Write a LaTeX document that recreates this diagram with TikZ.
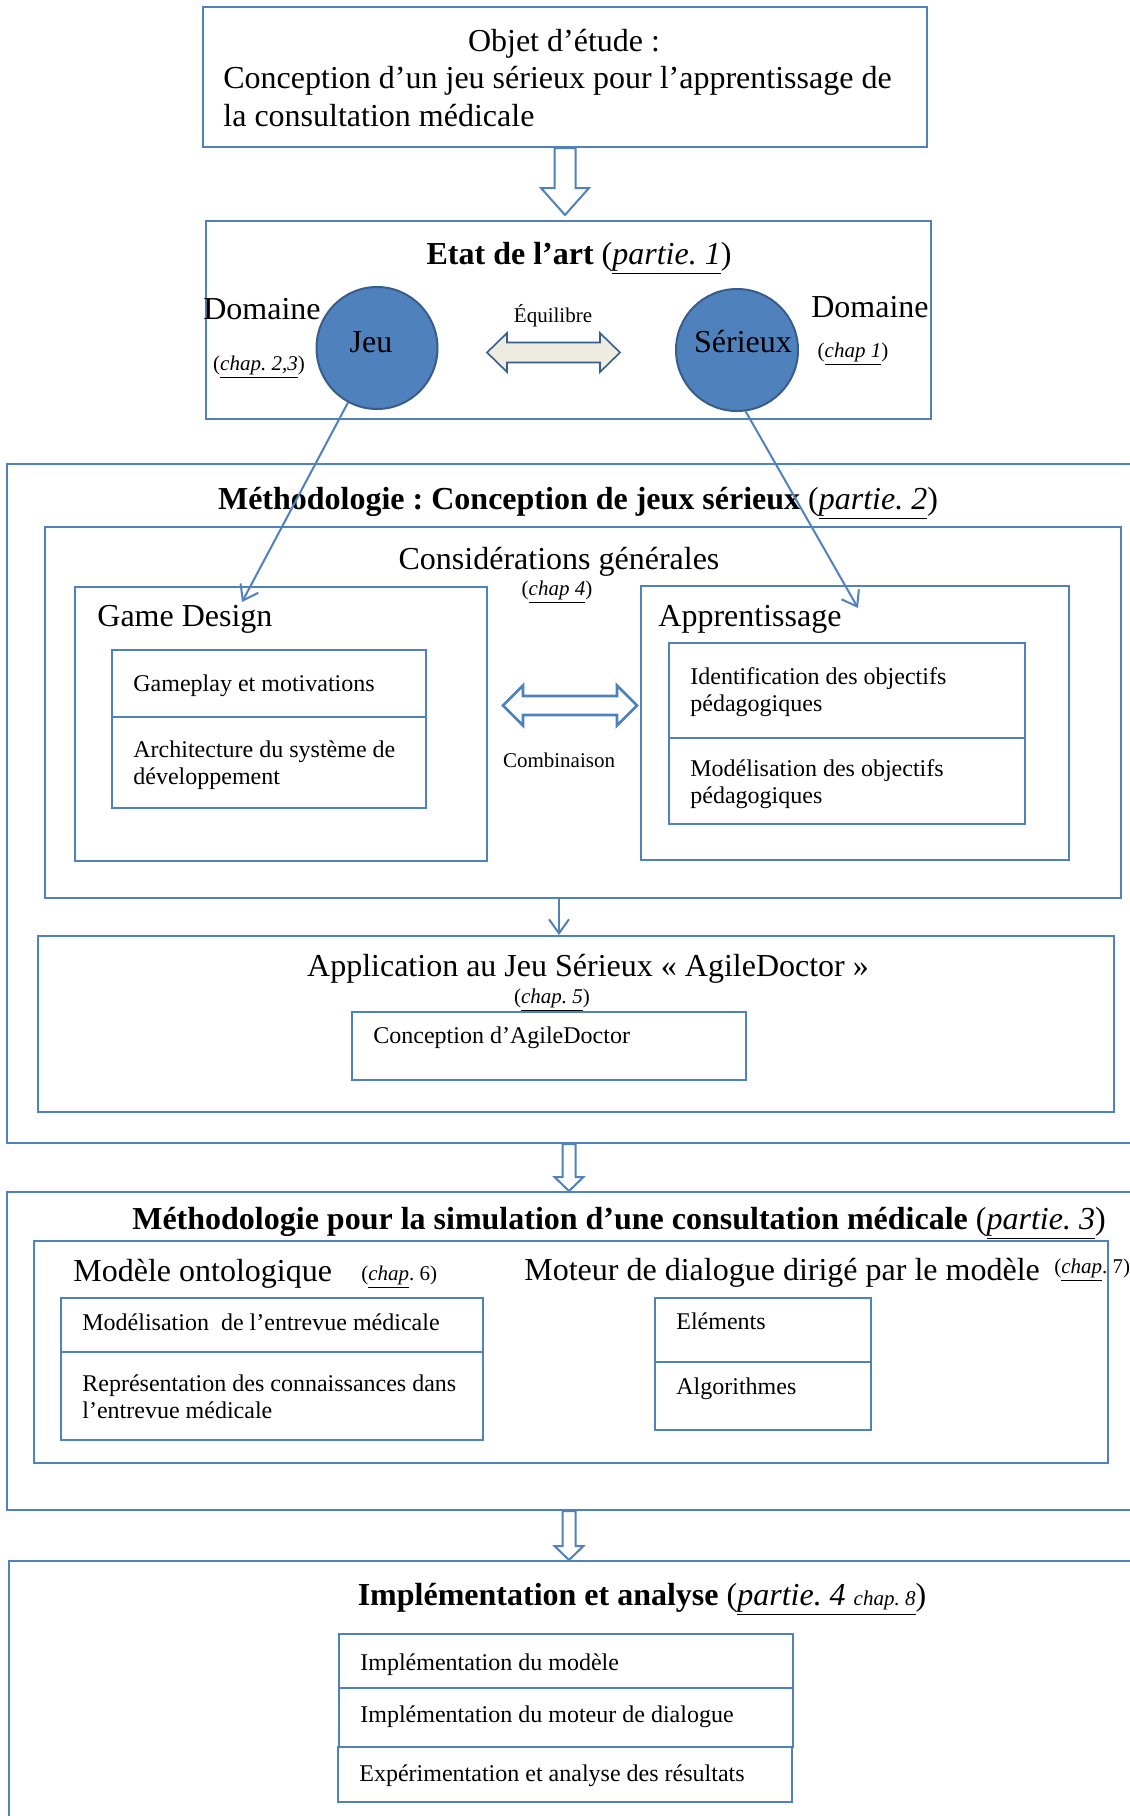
\documentclass[tikz,border=0pt]{standalone}
\usepackage{fontspec}
\setmainfont{Liberation Serif}
\usetikzlibrary{calc,fit,shapes.geometric,arrows.meta}
\frenchspacing

\definecolor{bl}{HTML}{4F81BD}
\definecolor{dbl}{HTML}{385D8A}
\definecolor{beige}{HTML}{EEECE1}

\newcommand\fbig{\fontsize{16}{19}\selectfont}
\newcommand\fmid{\fontsize{12}{13.8}\selectfont}
\newcommand\fsmall{\fontsize{10.5}{12}\selectfont}
\newcommand\uit[1]{\underline{\textit{#1}}}

\tikzset{
  box/.style={draw=bl, line width=1pt, inner sep=0pt, rectangle},
  subbox/.style={draw=bl, line width=1.4pt, inner sep=0pt, rectangle},
  ell/.style={ellipse, draw=dbl, line width=1pt, fill=bl, inner sep=0pt},
  conn/.style={draw=bl, line width=1pt, -{Straight Barb[length=7pt,width=10pt]}},
  harrow/.style={draw=bl, line width=1pt, fill=white, line join=miter},
  txt/.style={inner sep=0pt},
}

% hollow arrow pointing down: #1 from node, #2 to node, #3 shaft half, #4 head half, #5 head length, #6 gap
\newcommand\hollowdown[6]{%
  \draw[harrow] ($(#1.south)+(-#3,0)$) -- ($(#1.south|-#2.north)+(-#3,-#5-#6)$)
    -- ($(#1.south|-#2.north)+(-#4,-#5-#6)$) -- ($(#1.south|-#2.north)+(0,-#6)$)
    -- ($(#1.south|-#2.north)+(#4,-#5-#6)$) -- ($(#1.south|-#2.north)+(#3,-#5-#6)$)
    -- ($(#1.south)+(#3,0)$) -- cycle;}

% hollow double arrow between two coordinates: #1 left, #2 right, #3 shaft half, #4 head half, #5 head length, #6 style
\newcommand\hollowlr[6]{%
  \draw[#6] (#1) -- ($(#1)+(#5,-#4)$) -- ($(#1)+(#5,-#3)$) -- ($(#2)+(-#5,-#3)$)
    -- ($(#2)+(-#5,-#4)$) -- (#2) -- ($(#2)+(-#5,#4)$) -- ($(#2)+(-#5,#3)$)
    -- ($(#1)+(#5,#3)$) -- ($(#1)+(#5,#4)$) -- cycle;}

\begin{document}
\begin{tikzpicture}[x=0.5pt,y=-0.5pt]
\clip (0,0) rectangle (1130,1816);
\fill[white] (0,0) rectangle (1130,1816);

% ---------- boxes ----------
\node[box, fit={(203,7)(927,147)}] (obj) {};
\node[box, fit={(206,221)(931,419)}] (etat) {};
\node[box, fit={(7,464)(1131,1143)}] (meth) {};
\node[box, fit={(45,527)(1121,898)}] (cons) {};
\node[box, fit={(75,587)(487,861)}] (gd) {};
\node[subbox, fit={(112,650)(426,717)}] (gp) {};
\node[subbox, fit={(112,717)(426,808)}] (arch) {};
\node[box, fit={(641,586)(1069,860)}] (app) {};
\node[subbox, fit={(669,643)(1025,738)}] (idobj) {};
\node[subbox, fit={(669,738)(1025,824)}] (modobj) {};
\node[box, fit={(38,936)(1114,1112)}] (appl) {};
\node[subbox, fit={(352,1012)(746,1080)}] (concag) {};
\node[box, fit={(7,1192)(1131,1510)}] (sim) {};
\node[box, fit={(34,1241)(1108,1463)}] (siminner) {};
\node[subbox, fit={(61,1298)(483,1352)}] (modent) {};
\node[subbox, fit={(61,1352)(483,1440)}] (repr) {};
\node[subbox, fit={(655,1298)(871,1362)}] (elem) {};
\node[subbox, fit={(655,1362)(871,1430)}] (algo) {};
\node[box, fit={(9,1561)(1131,1830)}] (impl) {};
\node[subbox, fit={(339,1634)(793,1688)}] (implmod) {};
\node[subbox, fit={(339,1688)(793,1747)}] (implmot) {};
\node[subbox, fit={(338,1747)(792,1802)}] (exper) {};

% ---------- ellipses ----------
\node[ell, minimum width=60.5pt, minimum height=61pt] (jeu) at (377,348) {};
\node[ell, minimum width=61pt, minimum height=61pt] (ser) at (737,350) {};
\node[txt, font=\fbig] (jeuT) at (371,342) {Jeu};
\node[txt, font=\fbig] (serT) at (743,342) {Sérieux};

% ---------- texts ----------
\node[txt, anchor=base, font=\fbig] (objT) at (564,51) {Objet d’étude :};
\node[txt, anchor=base west, font=\fbig] (objB) at (223,88)
  {\begin{tabular}[t]{@{}l@{}}Conception d’un jeu sérieux pour l’apprentissage de\\la consultation médicale\end{tabular}};

\node[txt, anchor=base, font=\fbig] (etatT) at (579,264) {\textbf{Etat de l’art} (\uit{partie. 1})};
\node[txt, anchor=base, font=\fbig] (domL) at (262,319) {Domaine};
\node[txt, anchor=base, font=\fsmall] (chapL) at (259,370) {(\uit{chap. 2,3})};
\node[txt, anchor=base, font=\fbig] (domR) at (870,317) {Domaine};
\node[txt, anchor=base, font=\fsmall] (chapR) at (853,357) {(\uit{chap 1})};
\node[txt, anchor=base, font=\fsmall] (equiT) at (553,322) {Équilibre};

\node[txt, anchor=base, font=\fbig] (methT) at (578,509) {\textbf{Méthodologie : Conception de jeux sérieux} (\uit{partie. 2})};
\node[txt, anchor=base, font=\fbig] (consT) at (559,569) {Considérations générales};
\node[txt, anchor=base, font=\fsmall] (consC) at (557,595) {(\uit{chap 4})};

\node[txt, anchor=base west, font=\fbig] (gdT) at (97,626) {Game Design};
\node[txt, anchor=base west, font=\fmid] (gpT) at (133,691) {Gameplay et motivations};
\node[txt, anchor=base west, font=\fmid] (archT) at (133,757)
  {\begin{tabular}[t]{@{}l@{}}Architecture du système de\\développement\end{tabular}};
\node[txt, anchor=base, font=\fsmall] (combT) at (559,767) {Combinaison};
\node[txt, anchor=base west, font=\fbig] (appT) at (658,626) {Apprentissage};
\node[txt, anchor=base west, font=\fmid] (idobjT) at (690,684)
  {\begin{tabular}[t]{@{}l@{}}Identification des objectifs\\pédagogiques\end{tabular}};
\node[txt, anchor=base west, font=\fmid] (modobjT) at (690,776)
  {\begin{tabular}[t]{@{}l@{}}Modélisation des objectifs\\pédagogiques\end{tabular}};

\node[txt, anchor=base, font=\fbig] (applT) at (588,976) {Application au Jeu Sérieux «~AgileDoctor~»};
\node[txt, anchor=base, font=\fsmall] (applC) at (552,1003) {(\uit{chap. 5})};
\node[txt, anchor=base west, font=\fmid] (concagT) at (373,1043) {Conception d’AgileDoctor};

\node[txt, anchor=base, font=\fbig] (simT) at (619,1229) {\textbf{Méthodologie pour la simulation d’une consultation médicale} (\uit{partie. 3})};
\node[txt, anchor=base west, font=\fbig] (ontoT) at (73,1281) {Modèle ontologique};
\node[txt, anchor=base west, font=\fsmall] (ontoC) at (361,1280) {(\uit{chap}. 6)};
\node[txt, anchor=base west, font=\fbig] (motT) at (524,1280) {Moteur de dialogue dirigé par le modèle};
\node[txt, anchor=base west, font=\fsmall] (motC) at (1054,1273) {(\uit{chap}. 7)};
\node[txt, anchor=base west, font=\fmid] (modentT) at (82,1330) {Modélisation\ \ de l’entrevue médicale};
\node[txt, anchor=base west, font=\fmid] (reprT) at (82,1391)
  {\begin{tabular}[t]{@{}l@{}}Représentation des connaissances dans\\l’entrevue médicale\end{tabular}};
\node[txt, anchor=base west, font=\fmid] (elemT) at (676,1329) {Eléments};
\node[txt, anchor=base west, font=\fmid] (algoT) at (676,1394) {Algorithmes};

\node[txt, anchor=base, font=\fbig] (implT) at (642,1605) {\textbf{Implémentation et analyse} (\underline{\textit{partie. 4 {\fsmall chap. 8}}})};
\node[txt, anchor=base west, font=\fmid] (implmodT) at (360,1670) {Implémentation du modèle};
\node[txt, anchor=base west, font=\fmid] (implmotT) at (360,1722) {Implémentation du moteur de dialogue};
\node[txt, anchor=base west, font=\fmid] (experT) at (359,1781) {Expérimentation et analyse des résultats};

% ---------- connectors ----------
\hollowdown{obj}{etat}{10.5}{24}{27}{5}
\hollowdown{meth}{sim}{6.5}{14.5}{14}{0}
\hollowdown{sim}{impl}{6.5}{14.5}{14}{0}

\coordinate (eqL) at (487,352.5);
\coordinate (eqR) at (620,352.5);
\hollowlr{eqL}{eqR}{10}{19.5}{20}{draw=dbl, line width=0.8pt, fill=beige}

\coordinate (cbL) at (503,705.5);
\coordinate (cbR) at (637,705.5);
\hollowlr{cbL}{cbR}{9.5}{20}{20}{draw=bl, line width=1.4pt, fill=white}

\coordinate (gdtip) at (242,602);
\coordinate (aptip) at (858,608);
\draw[conn] (jeu.-118) -- (gdtip);
\draw[conn] (ser.-82) -- (aptip);
\draw[conn] (cons.south -| consT) -- (appl.north -| consT);
\end{tikzpicture}
\end{document}
